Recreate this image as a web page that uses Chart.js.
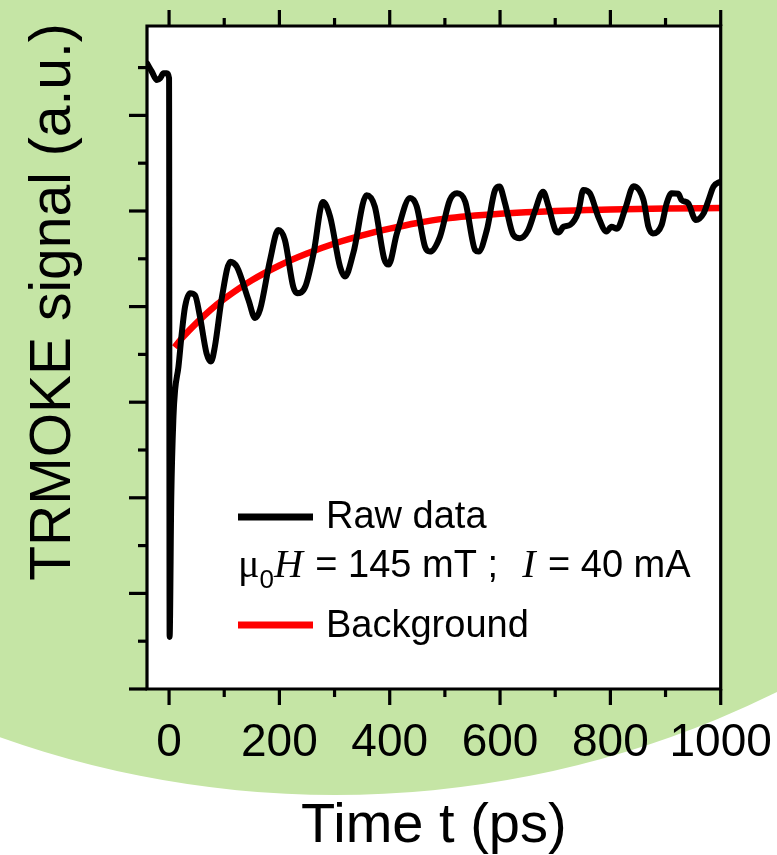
<!DOCTYPE html>
<html>
<head>
<meta charset="utf-8">
<title>TRMOKE signal</title>
<script src="https://cdn.jsdelivr.net/npm/chart.js@4.4.1/dist/chart.umd.min.js"></script>
<style>
  html, body { margin: 0; padding: 0; background: #ffffff; }
  canvas { display: block; }
</style>
</head>
<body>
<canvas id="trmoke" width="777" height="855"></canvas>
<script>
// ============================================
// TRMOKE trace vs. delay time, with fitted background
// ============================================

// Raw data: delay time (ps) and signal (a.u.)
const rawTime = [
    -40, -31, -22, -16, -10, -4, 0, 1, 4, 8, 11, 17, 23, 29, 38, 47, 56, 68, 76, 83,
    96, 111, 123, 144, 156, 165, 183, 198, 210, 225, 232, 247, 262, 279, 292, 310, 319, 334, 358, 373,
    390, 398, 413, 437, 449, 464, 473, 491, 509, 522, 537, 555, 561, 576, 591, 599, 609, 624, 636, 651,
    663, 678, 688, 700, 706, 715, 727, 742, 751, 763, 778, 793, 802, 812, 827, 842, 860, 869, 877, 893,
    902, 911, 923, 929, 941, 955, 969, 978, 987, 1000
];
const rawSignal = [
    13.09, 12.91, 12.74, 12.78, 12.88, 12.88, 12.78, 1.09, 4.0, 5.7, 6.26, 6.74, 7.44, 8.00, 8.28, 8.24, 7.79, 7.02, 6.85, 7.16,
    8.21, 8.94, 8.83, 8.14, 7.76, 7.94, 8.97, 9.60, 9.39, 8.42, 8.28, 8.42, 9.12, 10.19, 9.88, 8.83, 8.63, 9.12, 10.33, 10.09,
    9.00, 8.88, 9.53, 10.27, 10.09, 9.25, 9.15, 9.46, 10.23, 10.37, 10.19, 9.18, 9.15, 9.60, 10.44, 10.51, 10.16, 9.50, 9.43, 9.60,
    9.99, 10.40, 10.09, 9.60, 9.55, 9.67, 9.71, 9.99, 10.44, 10.37, 9.88, 9.57, 9.67, 9.63, 10.05, 10.52, 10.23, 9.67, 9.53, 9.71,
    10.16, 10.37, 10.36, 10.23, 10.16, 9.81, 9.95, 10.23, 10.51, 10.62
];

// Background fit
const bgTime = [10, 25, 50, 75, 100, 150, 200, 250, 300, 350, 400, 450, 500, 600, 700, 800, 900, 1000];
const bgSignal = [7.15, 7.36, 7.66, 7.93, 8.16, 8.55, 8.86, 9.11, 9.32, 9.49, 9.63, 9.75, 9.84, 9.94, 10.00, 10.03, 10.05, 10.06];

// Axis ticks
const xMajorTicks = [0, 200, 400, 600, 800, 1000];
const xMinorTicks = [100, 300, 500, 700, 900];
const yMajorTicks = [0, 2, 4, 6, 8, 10, 12];
const yMinorTicks = [1, 3, 5, 7, 9, 11, 13];

const X_MIN = -40;
const X_MAX = 1000;
const Y_MIN = 0;
const Y_MAX = 13.87;

const SANS = '"Liberation Sans", Arial, sans-serif';
const SERIF = '"Liberation Serif", "Times New Roman", serif';
const GREEN = '#c5e5a5';

function toPoints(xs, ys) {
    return xs.map((x, i) => ({ x: x, y: ys[i] }));
}

/**
 * Green disc behind everything, white plot box on top of it
 */
const backdropPlugin = {
    id: 'backdrop',
    beforeDraw(chart) {
        const { ctx, chartArea } = chart;
        ctx.save();
        ctx.fillStyle = '#ffffff';
        ctx.fillRect(0, 0, chart.width, chart.height);
        ctx.fillStyle = GREEN;
        ctx.beginPath();
        ctx.arc(335, -205, 1000, 0, Math.PI * 2);
        ctx.fill();
        ctx.fillStyle = '#ffffff';
        ctx.fillRect(chartArea.left, chartArea.top,
            chartArea.right - chartArea.left, chartArea.bottom - chartArea.top);
        ctx.restore();
    }
};

/**
 * Frame, outward ticks, tick labels, axis titles
 */
const framePlugin = {
    id: 'frame',
    afterDatasetsDraw(chart) {
        const { ctx, chartArea, scales } = chart;
        const { left, right, top, bottom } = chartArea;
        const x = scales.x;
        const y = scales.y;

        ctx.save();
        ctx.strokeStyle = '#000';
        ctx.lineWidth = 3.2;
        ctx.lineCap = 'butt';

        ctx.beginPath();
        ctx.moveTo(left, bottom);
        ctx.lineTo(left, top);
        ctx.lineTo(right, top);
        ctx.lineTo(right, bottom);
        ctx.closePath();
        ctx.stroke();

        const tick = (x1, y1, x2, y2) => {
            ctx.beginPath();
            ctx.moveTo(x1, y1);
            ctx.lineTo(x2, y2);
            ctx.stroke();
        };

        xMajorTicks.forEach(v => {
            const px = x.getPixelForValue(v);
            tick(px, bottom, px, bottom + 16);
            tick(px, top, px, top - 16);
        });
        xMinorTicks.forEach(v => {
            const px = x.getPixelForValue(v);
            tick(px, bottom, px, bottom + 8);
            tick(px, top, px, top - 8);
        });
        yMajorTicks.forEach(v => {
            const py = y.getPixelForValue(v);
            tick(left, py, left - 18, py);
        });
        yMinorTicks.forEach(v => {
            const py = y.getPixelForValue(v);
            tick(left, py, left - 9, py);
        });

        // tick labels
        ctx.fillStyle = '#000';
        ctx.font = '46px ' + SANS;
        ctx.textAlign = 'center';
        ctx.textBaseline = 'alphabetic';
        xMajorTicks.forEach(v => {
            ctx.fillText(String(v), x.getPixelForValue(v), 756);
        });

        // axis titles
        ctx.font = '56px ' + SANS;
        ctx.fillText('Time t (ps)', (left + right) / 2, 842);

        ctx.save();
        ctx.translate(70, 302);
        ctx.rotate(-Math.PI / 2);
        ctx.font = '57px ' + SANS;
        ctx.fillText('TRMOKE signal (a.u.)', 0, 0);
        ctx.restore();

        ctx.restore();
    }
};

/**
 * Legend with the field / current annotation between the two entries
 */
const legendPlugin = {
    id: 'fieldLegend',
    afterDraw(chart) {
        const ctx = chart.ctx;
        const datasets = chart.data.datasets;
        ctx.save();
        ctx.lineCap = 'butt';
        ctx.lineWidth = 7;
        ctx.textAlign = 'left';
        ctx.textBaseline = 'alphabetic';
        ctx.fillStyle = '#000';

        ctx.strokeStyle = datasets[0].borderColor;
        ctx.beginPath();
        ctx.moveTo(238, 517);
        ctx.lineTo(313, 517);
        ctx.stroke();
        ctx.font = '38px ' + SANS;
        ctx.fillText(datasets[0].label, 326, 528);

        // μ0H = 145 mT ;  I = 40 mA
        const parts = [
            { text: 'μ', font: '40px ' + SERIF, dy: 0, gap: 0 },
            { text: '0', font: '26px ' + SANS, dy: 11, gap: 0 },
            { text: 'H', font: 'italic 40px ' + SERIF, dy: 0, gap: 2 },
            { text: ' = 145 mT ;  ', font: '38px ' + SANS, dy: 0, gap: 3 },
            { text: 'I', font: 'italic 40px ' + SERIF, dy: 0, gap: 2 },
            { text: ' = 40 mA', font: '38px ' + SANS, dy: 0, gap: 0 }
        ];
        let cx = 238;
        parts.forEach(p => {
            ctx.font = p.font;
            ctx.fillText(p.text, cx, 577 + p.dy);
            cx += ctx.measureText(p.text).width + p.gap;
        });

        ctx.strokeStyle = datasets[1].borderColor;
        ctx.beginPath();
        ctx.moveTo(238, 625);
        ctx.lineTo(313, 625);
        ctx.stroke();
        ctx.font = '38px ' + SANS;
        ctx.fillText(datasets[1].label, 326, 637);

        ctx.restore();
    }
};

const chart = new Chart(document.getElementById('trmoke'), {
    type: 'line',
    data: {
        datasets: [
            {
                label: 'Raw data',
                data: toPoints(rawTime, rawSignal),
                borderColor: '#000000',
                borderWidth: 6,
                pointRadius: 0,
                cubicInterpolationMode: 'monotone',
                borderJoinStyle: 'round',
                borderCapStyle: 'round',
                fill: false
            },
            {
                label: 'Background',
                data: toPoints(bgTime, bgSignal),
                borderColor: '#ff0000',
                borderWidth: 6.5,
                pointRadius: 0,
                cubicInterpolationMode: 'monotone',
                borderCapStyle: 'butt',
                fill: false
            }
        ]
    },
    options: {
        responsive: false,
        devicePixelRatio: 1,
        animation: false,
        layout: {
            padding: { left: 147, right: 56.3, top: 26, bottom: 166 }
        },
        plugins: {
            legend: { display: false },
            tooltip: { enabled: false }
        },
        scales: {
            x: { type: 'linear', min: X_MIN, max: X_MAX, display: false },
            y: { type: 'linear', min: Y_MIN, max: Y_MAX, display: false }
        }
    },
    plugins: [backdropPlugin, framePlugin, legendPlugin]
});
</script>
</body>
</html>
